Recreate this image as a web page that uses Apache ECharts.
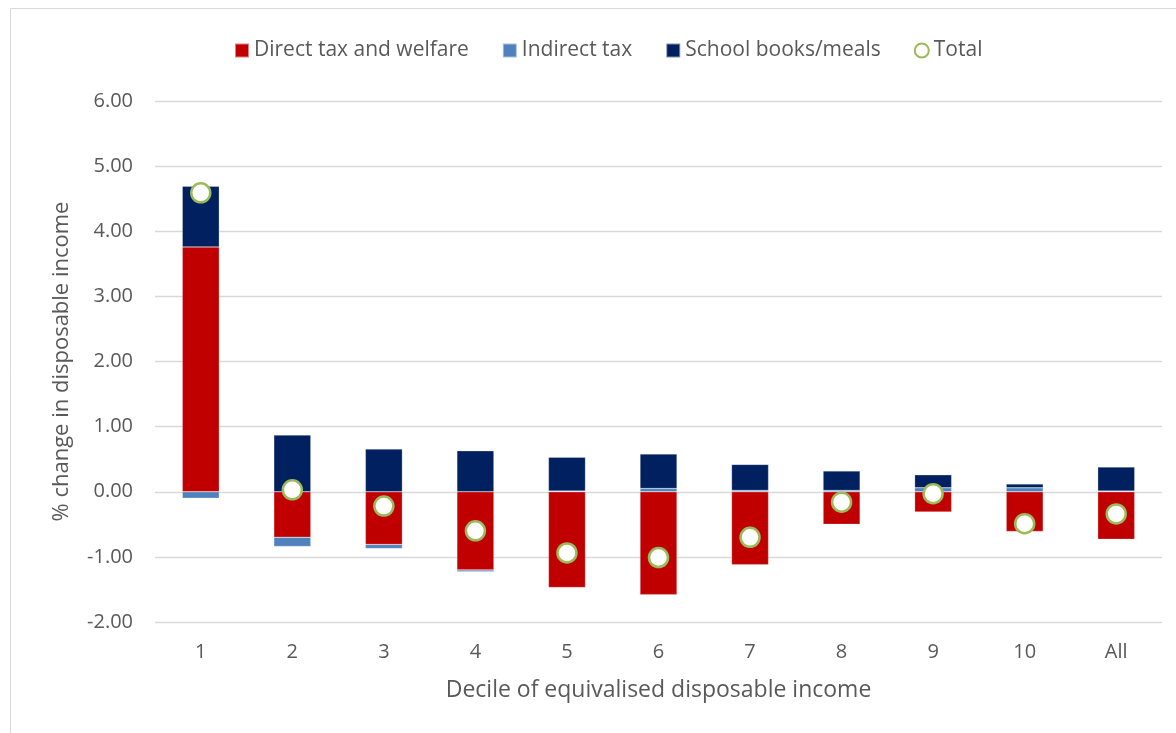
<!DOCTYPE html>
<html><head><meta charset="utf-8">
<script src="https://cdn.jsdelivr.net/npm/echarts@6/dist/echarts.min.js"></script>
<style>html,body{margin:0;padding:0;background:#fff}#c{width:1176px;height:733px}</style>
</head><body><div id="c"></div>
<script>
const categories = ['1','2','3','4','5','6','7','8','9','10','All'];
const directTax = [3.76,-0.70,-0.81,-1.20,-1.47,-1.58,-1.12,-0.50,-0.31,-0.61,-0.73];
const indirectTax = [-0.10,-0.14,-0.06,-0.03,0.01,0.05,0.02,0.02,0.06,0.06,0.01];
const schoolBooks = [0.93,0.87,0.655,0.63,0.52,0.53,0.40,0.30,0.20,0.06,0.37];
const total = [4.59,0.03,-0.22,-0.60,-0.94,-1.01,-0.70,-0.16,-0.03,-0.49,-0.34];
const yTicks = {min:-2, max:6, interval:1};

const font = '"Open Sans", "Noto Sans", sans-serif';
const chart = echarts.init(document.getElementById('c'), null, {renderer:'canvas'});
chart.setOption({
  backgroundColor:'#fff',
  animation:false,
  textStyle:{fontFamily:font},
  graphic:[{type:'rect', shape:{x:10.5,y:8.5,width:1180,height:740}, style:{fill:'none', stroke:'#d9d9d9', lineWidth:1}, silent:true}],
  legend:{
    top:35, left:229, itemWidth:14, itemHeight:14, itemGap:33,
    textStyle:{fontSize:21, color:'#595959', fontFamily:font},
    data:[
      {name:'Direct tax and welfare', icon:'rect'},
      {name:'Indirect tax', icon:'rect'},
      {name:'School books/meals', icon:'rect'},
      {name:'Total', icon:'circle', itemStyle:{color:'#ffffff', borderColor:'#9BBB59', borderWidth:2, opacity:1}}
    ]
  },
  grid:{left:155, right:14, top:101, bottom:111, containLabel:false},
  xAxis:{
    type:'category', data:categories,
    axisLine:{show:false, onZero:false}, axisTick:{show:false},
    axisLabel:{fontSize:20, color:'#595959', margin:20},
    name:'Decile of equivalised disposable income', nameLocation:'middle', nameGap:57,
    nameTextStyle:{fontSize:23, color:'#595959'}
  },
  yAxis:{
    type:'value', min:yTicks.min, max:yTicks.max, interval:yTicks.interval,
    axisLine:{show:false}, axisTick:{show:false},
    axisLabel:{fontSize:20, color:'#595959', margin:22, formatter:v=>v.toFixed(2)},
    splitLine:{lineStyle:{color:'#d9d9d9', width:1.3}},
    name:'% change in disposable income', nameLocation:'middle', nameGap:82,
    nameTextStyle:{fontSize:22, color:'#595959'}
  },
  series:[
    {name:'Direct tax and welfare', type:'bar', stack:'a', data:directTax, barWidth:37,
      itemStyle:{color:'#C00000', borderColor:'rgba(255,255,255,0.5)', borderWidth:0.5}},
    {name:'Indirect tax', type:'bar', stack:'a', data:indirectTax, barWidth:37,
      itemStyle:{color:'#4F81BD', borderColor:'rgba(255,255,255,0.5)', borderWidth:0.5}},
    {name:'School books/meals', type:'bar', stack:'a', data:schoolBooks, barWidth:37,
      itemStyle:{color:'#002060', borderColor:'rgba(255,255,255,0.5)', borderWidth:0.5}},
    {name:'Total', type:'scatter', data:total, symbol:'circle', symbolSize:19, z:5,
      itemStyle:{color:'#ffffff', borderColor:'#9BBB59', borderWidth:2.5, opacity:1}}
  ]
});
</script></body></html>
